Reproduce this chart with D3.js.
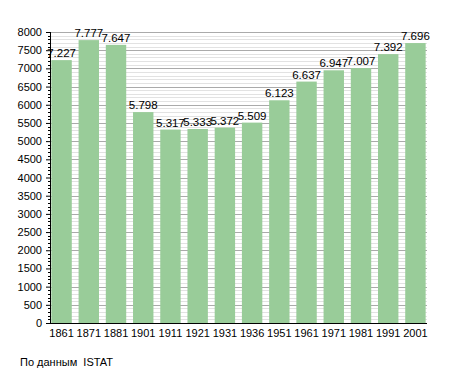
<!DOCTYPE html>
<html>
<head>
<meta charset="utf-8">
<script src="https://cdn.jsdelivr.net/npm/d3@7"></script>
<style>
  body { margin: 0; background: #fff; }
  text { font-family: "Liberation Sans", Arial, sans-serif; }
</style>
</head>
<body>
<script>
const years = ["1861", "1871", "1881", "1901", "1911", "1921", "1931", "1936", "1951", "1961", "1971", "1981", "1991", "2001"];
const population = [7227, 7777, 7647, 5798, 5317, 5333, 5372, 5509, 6123, 6637, 6947, 7007, 7392, 7696];
const yTicks = d3.range(0, 8001, 500);
const source = "По данным  ISTAT";

const width = 455,
  height = 373,
  marginTop = 32,
  marginRight = 28,
  marginBottom = 50,
  marginLeft = 50;

const svg = d3.select("body").append("svg")
  .attr("width", width)
  .attr("height", height);

const x = d3.scaleBand()
  .domain(years)
  .range([marginLeft, width - marginRight])
  .paddingInner(0.25)
  .paddingOuter(0.05);

const y = d3.scaleLinear()
  .domain([0, 8000])
  .range([height - marginBottom, marginTop]);

// minor grid every 100
svg.append("g")
  .selectAll("line")
  .data(d3.range(100, 8001, 100).filter(d => d % 500 !== 0))
  .join("line")
  .attr("x1", marginLeft)
  .attr("x2", width - marginRight)
  .attr("y1", d => Math.round(y(d)) + 0.5)
  .attr("y2", d => Math.round(y(d)) + 0.5)
  .attr("stroke", "#e2e2e2");

// major grid every 500
svg.append("g")
  .selectAll("line")
  .data(yTicks.slice(1))
  .join("line")
  .attr("x1", marginLeft)
  .attr("x2", width - marginRight)
  .attr("y1", d => Math.round(y(d)) + 0.5)
  .attr("y2", d => Math.round(y(d)) + 0.5)
  .attr("stroke", "#aaaaaa");

// bars
svg.append("g")
  .selectAll("rect")
  .data(population)
  .join("rect")
  .attr("x", (_, i) => x(years[i]))
  .attr("y", d => y(d))
  .attr("width", x.bandwidth())
  .attr("height", d => y(0) - y(d))
  .attr("fill", "#99cc99");

// value labels
svg.append("g")
  .selectAll("text")
  .data(population)
  .join("text")
  .attr("x", (_, i) => x(years[i]) + x.bandwidth() / 2)
  .attr("y", d => y(d) - 3)
  .attr("text-anchor", "middle")
  .attr("font-size", 11.5)
  .attr("fill", "#000")
  .text(d => d3.format(",")(d).replace(",", "."));

// y axis
const yAxis = svg.append("g")
  .attr("transform", `translate(${marginLeft},0)`)
  .call(d3.axisLeft(y).tickValues(yTicks).tickSize(4).tickPadding(4).tickFormat(d3.format("d")));
yAxis.select(".domain").remove();
yAxis.selectAll("text").attr("font-size", 11).attr("fill", "#000");

// minor ticks on y axis
svg.append("g")
  .selectAll("line")
  .data(d3.range(100, 8001, 100).filter(d => d % 500 !== 0))
  .join("line")
  .attr("x1", marginLeft - 2)
  .attr("x2", marginLeft)
  .attr("y1", d => Math.round(y(d)) + 0.5)
  .attr("y2", d => Math.round(y(d)) + 0.5)
  .attr("stroke", "#000");

svg.append("line")
  .attr("x1", marginLeft + 0.5)
  .attr("x2", marginLeft + 0.5)
  .attr("y1", y(8000))
  .attr("y2", y(0))
  .attr("stroke", "#000");

// x axis
const xAxis = svg.append("g")
  .attr("transform", `translate(0,${Math.round(y(0)) + 0.5})`)
  .call(d3.axisBottom(x).tickSize(0).tickPadding(6).tickSizeOuter(0));
xAxis.select(".domain").attr("stroke", "#000").attr("d", `M${marginLeft},0H${width - marginRight}`);
xAxis.selectAll("text").attr("font-size", 11).attr("fill", "#000");

// source
svg.append("text")
  .attr("x", 20)
  .attr("y", 366)
  .attr("font-size", 11)
  .style("white-space", "pre")
  .text(source);
</script>
</body>
</html>
